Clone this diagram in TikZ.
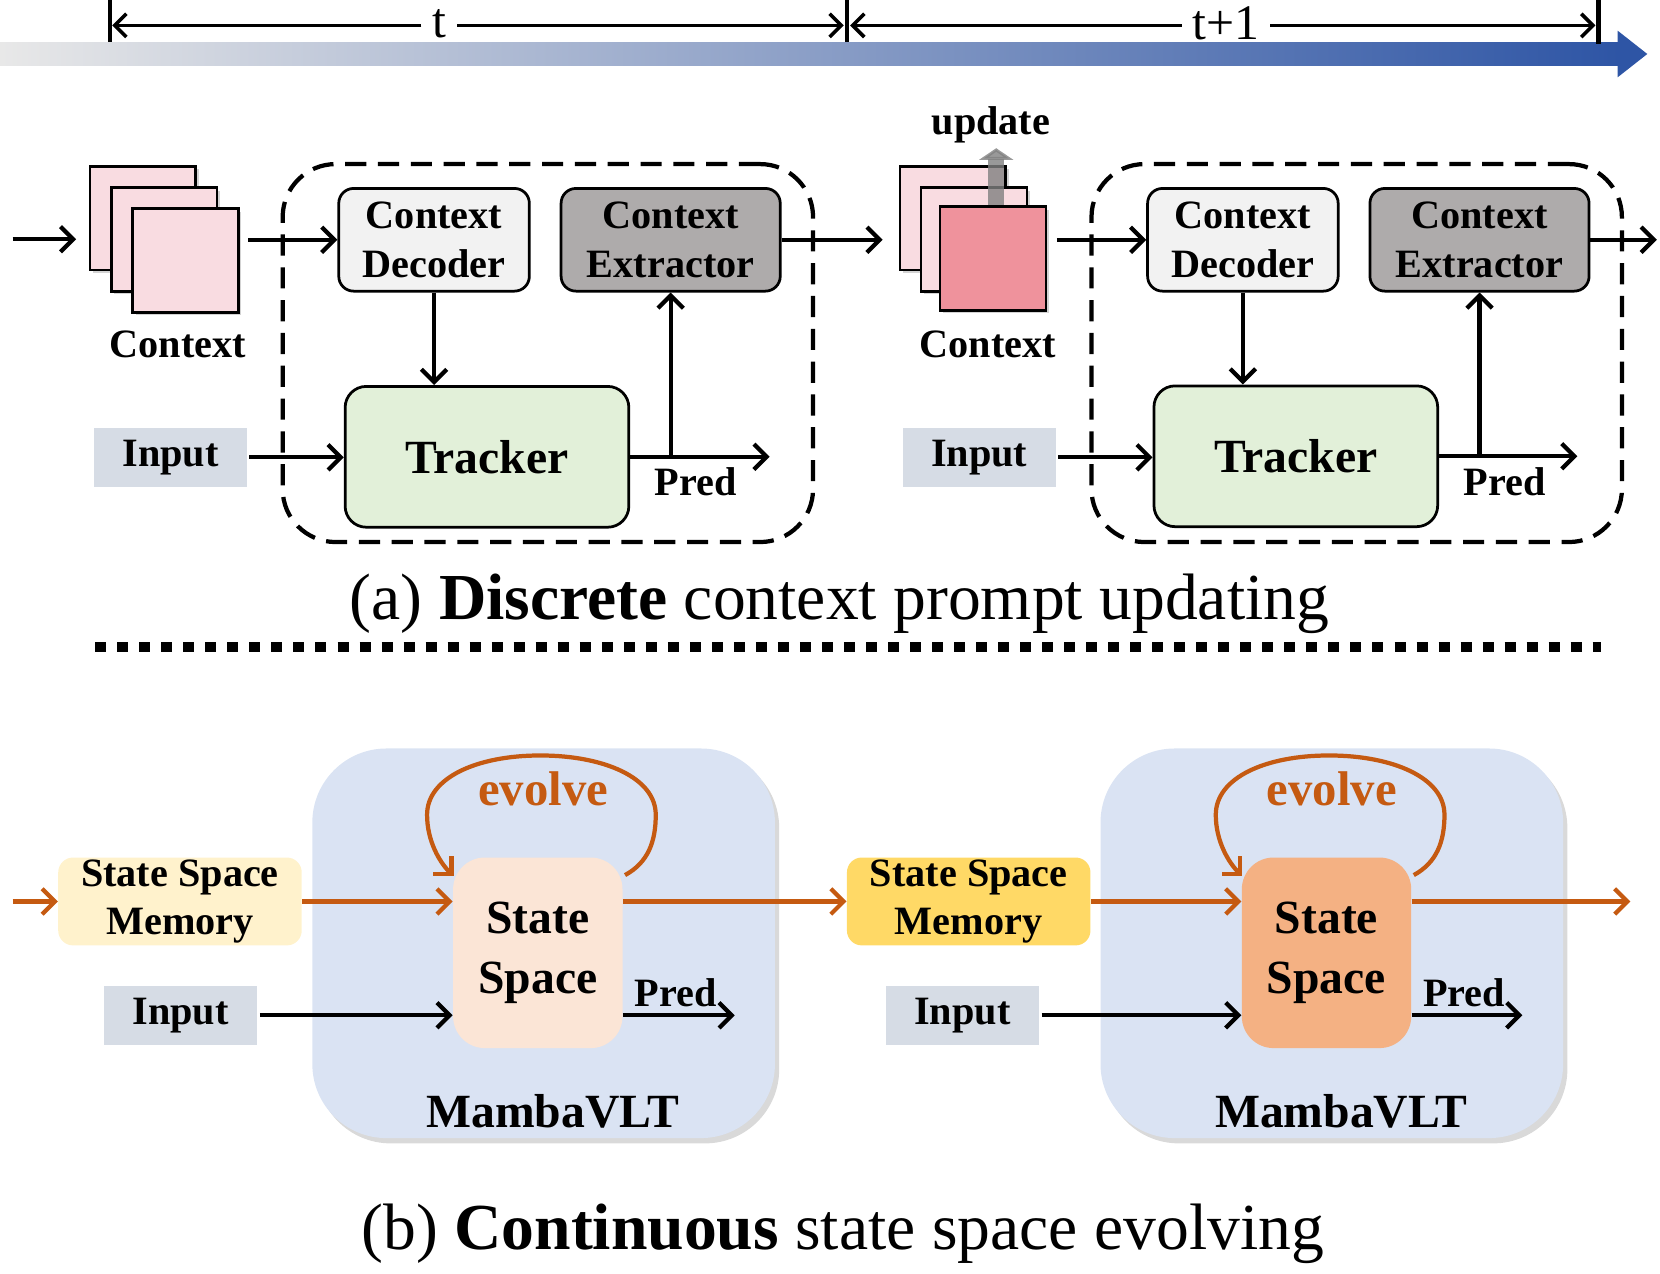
\documentclass[tikz,border=0pt]{standalone}
\usepackage{fontspec}
\setmainfont{Liberation Serif}
\usetikzlibrary{arrows.meta,shadows,calc}
\definecolor{tlgray}{HTML}{E8E8E8}
\definecolor{tlmid}{HTML}{A3B8E3}
\definecolor{tlblue}{HTML}{2E55A5}
\definecolor{pinkL}{HTML}{F9DCE1}
\definecolor{pinkD}{HTML}{EF929C}
\definecolor{decC}{HTML}{F2F2F2}
\definecolor{extC}{HTML}{AEABAB}
\definecolor{trkC}{HTML}{E2F0D9}
\definecolor{inpC}{HTML}{D6DCE5}
\definecolor{memL}{HTML}{FFF2CC}
\definecolor{memR}{HTML}{FFD966}
\definecolor{ssL}{HTML}{FBE5D6}
\definecolor{ssR}{HTML}{F4B183}
\definecolor{mambaC}{HTML}{DAE3F3}
\definecolor{orng}{HTML}{C55A11}
\tikzset{
  fa/.style={font=\bfseries\fontsize{19}{23}\selectfont},
  fb/.style={font=\bfseries\fontsize{22.5}{28.5}\selectfont},
  arr/.style={line width=2pt,-{Straight Barb[length=6pt,width=12pt]}},
  oarr/.style={line width=2pt,draw=orng,-{Straight Barb[length=6pt,width=12pt]}},
  tickln/.style={line width=2.2pt},
  dimarr/.style={line width=1.7pt,-{Straight Barb[length=5.5pt,width=11pt]}},
  tlab/.style={font=\fontsize{23.5}{26}\selectfont,inner sep=5pt},
  stk/.style={draw,line width=1.3pt,fill=pinkL,minimum width=50pt,minimum height=49pt,inner sep=0pt,
    drop shadow={shadow xshift=1.5pt,shadow yshift=-1.5pt,opacity=0.35}},
  bx/.style={draw,line width=1.3pt,rounded corners=7pt,align=center,inner sep=0pt,fa},
  dec/.style={bx,fill=decC,minimum width=90pt,minimum height=48.5pt},
  ext/.style={bx,fill=extC,minimum width=103.5pt,minimum height=48.5pt},
  trk/.style={draw,line width=1.3pt,rounded corners=10pt,fill=trkC,minimum width=134pt,minimum height=66.5pt,inner sep=0pt,fb},
  inp/.style={fill=inpC,minimum width=72pt,minimum height=28pt,inner sep=0pt,fa},
  grp/.style={draw,line width=2pt,dash pattern=on 10pt off 5.5pt,rounded corners=25pt,minimum width=250.5pt,minimum height=178.5pt},
  lbl/.style={fa,inner sep=0pt},
  captxt/.style={font=\fontsize{31}{36}\selectfont,inner sep=0pt},
  mamba/.style={fill=mambaC,rounded corners=35pt,minimum width=218.5pt,minimum height=184pt,
    drop shadow={shadow xshift=2pt,shadow yshift=-2.5pt,opacity=0.3}},
  mem/.style={rounded corners=7pt,minimum width=115pt,minimum height=41.5pt,inner sep=0pt,align=center,fa},
  ssbox/.style={rounded corners=15pt,minimum width=80pt,minimum height=90pt,inner sep=0pt,align=center,
    font=\bfseries\fontsize{22.5}{28.5}\selectfont},
  evo/.style={font=\bfseries\fontsize{23}{26}\selectfont,text=orng,inner sep=0pt},
  oloop/.style={line width=2pt,draw=orng,-{Straight Barb[length=6pt,width=12pt]}},
  upd/.style={line width=7.5pt,draw=gray,opacity=0.8,-{Triangle[length=5.5pt,width=16pt]}},
  sepln/.style={line width=5pt,dash pattern=on 5.2pt off 5.2pt}
}
\begin{document}
\begin{tikzpicture}[x=0.5pt,y=-0.5pt]
\useasboundingbox (0,0) rectangle (1568,1203);

% ---------- timeline ----------
\shade[left color=tlgray,middle color=tlmid,right color=tlblue] (0,40) rectangle (1530,62);
\fill[tlblue] (1528,29) -- (1556,51) -- (1528,73) -- cycle;
\coordinate (k0t) at (104,0); \coordinate (k0b) at (104,40);
\coordinate (k1t) at (800,0); \coordinate (k1b) at (800,40);
\coordinate (k2t) at (1510,0); \coordinate (k2b) at (1510,42);
\draw[tickln] (k0t) -- (k0b);
\draw[tickln] (k1t) -- (k1b);
\draw[tickln] (k2t) -- (k2b);
\node[tlab] (tA) at (415,22) {t};
\node[tlab] (tB) at (1158,22) {t+1};
\coordinate (dA0) at (106,24); \coordinate (dA1) at (797,24);
\coordinate (dB0) at (803,24); \coordinate (dB1) at (1507,24);
\draw[dimarr] (tA.west |- dA0) -- (dA0);
\draw[dimarr] (tA.east |- dA1) -- (dA1);
\draw[dimarr] (tB.west |- dB0) -- (dB0);
\draw[dimarr] (tB.east |- dB1) -- (dB1);

% ---------- (a) left ----------
\node[grp] (grpA) at (517.5,333.5) {};
\node[stk] (sA1) at (135,206) {};
\node[stk] (sA2) at (155,226) {};
\node[stk] (sA3) at (175,246) {};
\node[lbl] (ctxA) at (168,325) {Context};
\node[dec] (decA) at (410,226.5) {Context\\Decoder};
\node[ext] (extA) at (633.5,226.5) {Context\\Extractor};
\node[trk] (trkA) at (460,431.5) {Tracker};
\node[inp] (inA) at (161,432) {Input};
\node[lbl] (prA) at (657,455) {Pred};
\coordinate (aIn0) at (12,226); \coordinate (aIn1) at (72,226);
\coordinate (pA) at (727,431.5);
\draw[arr] (aIn0) -- (aIn1);
\draw[arr] ($(sA3.east |- decA.west)+(8,0)$) -- (decA.west);
\draw[arr] (decA.south) -- (decA.south |- trkA.north);
\draw[arr] ($(inA.east)+(2,0)$) -- (inA.east -| trkA.west);
\draw[arr] (trkA.east) -- (pA);
\draw[arr] (extA.south |- trkA.east) -- (extA.south);

% ---------- (a) right ----------
\node[grp] (grpB) at (1281.5,333.5) {};
\node[stk] (sB1) at (900,206) {};
\node[stk] (sB2) at (920,226) {};
\node[stk,fill=pinkD] (sB3) at (938,244) {};
\node[lbl] (updL) at (936,118) {update};
\coordinate (updT) at (941,140);
\draw[upd] ($(sB3.north)+(3,0)$) -- (updT);
\node[lbl] (ctxB) at (933,325) {Context};
\node[dec] (decB) at (1174,226.5) {Context\\Decoder};
\node[ext] (extB) at (1397.5,226.5) {Context\\Extractor};
\node[trk] (trkB) at (1224,431) {Tracker};
\node[inp] (inB) at (925,432) {Input};
\node[lbl] (prB) at (1421,455) {Pred};
\coordinate (pB) at (1490,431);
\coordinate (aOut) at (1565,226.5);
\draw[arr] (extA.east) -- ($(sB1.west |- extA.east)+(-15,0)$);
\draw[arr] ($(sB3.east |- decB.west)+(9,0)$) -- (decB.west);
\draw[arr] (decB.south) -- (decB.south |- trkB.north);
\draw[arr] ($(inB.east)+(2,0)$) -- (inB.east -| trkB.west);
\draw[arr] (trkB.east) -- (pB);
\draw[arr] (extB.south |- trkB.east) -- (extB.south);
\draw[arr] (extB.east) -- (aOut);

\node[captxt] (capA) at (793,570) {(a) \textbf{Discrete} context prompt updating};
\coordinate (sep0) at (90,611); \coordinate (sep1) at (1512,611);
\draw[sepln] (sep0) -- (sep1);

% ---------- (b) ----------
\node[mamba] (mbA) at (513.5,891) {};
\node[mamba] (mbB) at (1258,891) {};
\node[fb] (mlA) at (522,1050) {MambaVLT};
\node[fb] (mlB) at (1267,1050) {MambaVLT};
\node[mem,fill=memL] (memA) at (170,851.5) {State Space\\Memory};
\node[mem,fill=memR] (memB) at (915,851.5) {State Space\\Memory};
\node[ssbox,fill=ssL] (ssA) at (508,900) {State\\Space};
\node[ssbox,fill=ssR] (ssB) at (1253,900) {State\\Space};
\node[inp,minimum width=72.5pt] (inC) at (170.5,959) {Input};
\node[inp,minimum width=72.5pt] (inD) at (909,959) {Input};
\node[evo] (evA) at (513,745) {evolve};
\node[evo] (evB) at (1258,745) {evolve};
\node[lbl] (prC) at (638,938) {Pred};
\node[lbl] (prD) at (1383,938) {Pred};

\coordinate (oIn) at (12,851.5);
\coordinate (oOut) at (1540,851.5);
\draw[oarr] (oIn) -- (memA.west);
\draw[oarr] (memA.east) -- (memA.east -| ssA.west);
\draw[oarr] (ssA.east |- memA.east) -- (memB.west);
\draw[oarr] (memB.east) -- (memB.east -| ssB.west);
\draw[oarr] (ssB.east |- memB.east) -- (oOut);

\coordinate (pC) at (694,959);
\coordinate (pD) at (1438,959);
\draw[arr] ($(inC.east)+(2,0)$) -- (inC.east -| ssA.west);
\draw[arr] (ssA.east |- inC.east) -- (pC);
\draw[arr] ($(inD.east)+(2,0)$) -- (inD.east -| ssB.west);
\draw[arr] (ssB.east |- inD.east) -- (pD);

\begin{scope}[shift={(ssA.north east)}]
\draw[oloop] (2,17) .. controls (24,5) and (31,-15) .. (31,-40)
  .. controls (31,-75) and (-18,-96) .. (-78,-96)
  .. controls (-138,-96) and (-185,-75) .. (-185,-40)
  .. controls (-185,-15) and (-173,5) .. (-160,18);
\end{scope}
\begin{scope}[shift={(ssB.north east)}]
\draw[oloop] (2,17) .. controls (24,5) and (31,-15) .. (31,-40)
  .. controls (31,-75) and (-18,-96) .. (-78,-96)
  .. controls (-138,-96) and (-185,-75) .. (-185,-40)
  .. controls (-185,-15) and (-173,5) .. (-160,18);
\end{scope}

\node[captxt] (capB) at (796,1165) {(b) \textbf{Continuous} state space evolving};
\end{tikzpicture}
\end{document}
